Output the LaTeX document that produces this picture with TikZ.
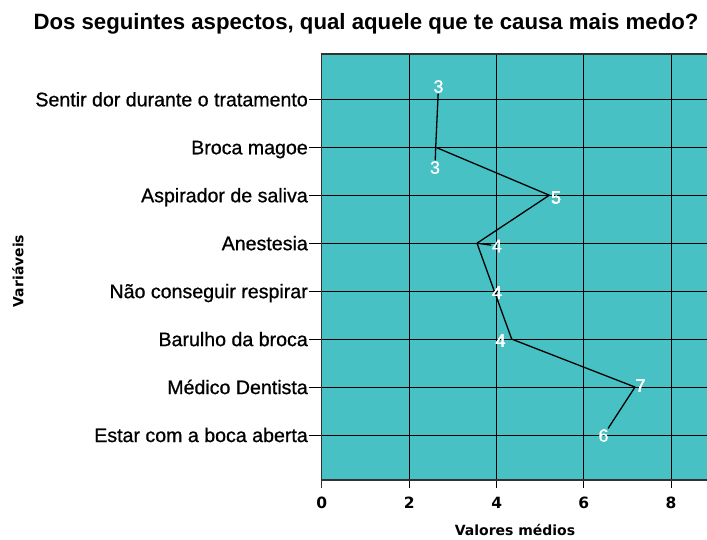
\documentclass[tikz,border=0pt]{standalone}
\usepackage{fontspec}
\setmainfont{Liberation Sans}
\newfontfamily\semib{Liberation Sans}[FakeBold=0.8]
\newfontfamily\djv{DejaVu Sans}
\definecolor{plotbg}{RGB}{72,193,197}
\definecolor{framec}{RGB}{50,50,50}
\tikzset{
  catlab/.style={anchor=base east,inner sep=0pt,font=\semib\fontsize{19.6}{22}\selectfont},
  ticklab/.style={inner sep=0pt,font=\djv\bfseries\fontsize{15.5}{17}\selectfont},
  axtitle/.style={inner sep=0pt,font=\djv\bfseries\fontsize{14}{16}\selectfont},
  vallab/.style={inner sep=0.5pt,text=white,font=\semib\fontsize{18}{20}\selectfont},
  gridl/.style={black,line width=1pt},
  dataline/.style={black,line width=1.3pt,line join=round}
}
\begin{document}
\begin{tikzpicture}[x=1pt,y=-1pt]
\clip (0,0) rectangle (707,539);
\fill[white] (0,0) rectangle (707,539);
% plot area
\fill[plotbg] (321.7,54) rectangle (740,480);
% vertical grid lines + ticks
\foreach \xx in {409.3,496.7,583.7,671}{
  \draw[gridl] (\xx,54) -- (\xx,488);
}
\draw[framec,line width=1.3pt] (321.7,480) -- (321.7,488);
% horizontal row lines + ticks
\foreach \i in {0,...,7}{
  \draw[gridl] (309,{99.3+47.96*\i}) -- (740,{99.3+47.96*\i});
}
% frame
\draw[framec,line width=1.4pt] (740,54) -- (321.7,54) -- (321.7,480) -- (740,480);
% title
\node[inner sep=0pt,font=\bfseries\fontsize{22.2}{24}\selectfont] (title) at (366,24) {Dos seguintes aspectos, qual aquele que te causa mais medo?};
% category labels
\node[catlab] (c1) at (308,{99.3+7}) {Sentir dor durante o tratamento};
\node[catlab] (c2) at (308,{147.26+7}) {Broca magoe};
\node[catlab] (c3) at (308,{195.22+7}) {Aspirador de saliva};
\node[catlab] (c4) at (308,{243.18+7}) {Anestesia};
\node[catlab] (c5) at (308,{291.14+7}) {Não conseguir respirar};
\node[catlab] (c6) at (308,{339.1+7}) {Barulho da broca};
\node[catlab] (c7) at (308,{387.06+7}) {Médico Dentista};
\node[catlab] (c8) at (308,{435.02+7}) {Estar com a boca aberta};
% axis tick labels
\node[ticklab] (t0) at (321.7,502.7) {0};
\node[ticklab] (t2) at (409.3,502.7) {2};
\node[ticklab] (t4) at (496.7,502.7) {4};
\node[ticklab] (t6) at (583.7,502.7) {6};
\node[ticklab] (t8) at (671,502.7) {8};
\node[axtitle] (xtitle) at (515,530) {Valores médios};
\node[axtitle,rotate=90] (ytitle) at (18,271) {Variáveis};
% data points
\coordinate (p2) at (435.7,147.26);
\coordinate (p3) at (549.3,195.22);
\coordinate (p4) at (477,243.18);
\coordinate (p5) at (494.3,291.14);
\coordinate (p6) at (511.7,339.1);
\coordinate (p7) at (635,387.06);
% value labels
\node[vallab] (l1) at (438.5,86.5) {3};
\node[vallab] (l2) at (435,167.5) {3};
\node[vallab] (l3) at (556,197.5) {5};
\node[vallab] (l4) at (497,246) {4};
\node[vallab] (l5) at (497,292.5) {4};
\node[vallab] (l6) at (500.5,340.5) {4};
\node[vallab] (l7) at (640.5,385.5) {7};
\node[vallab] (l8) at (603.5,435.5) {6};
% data line
\draw[dataline] (l1) -- (p2) -- (p3) -- (p4) -- (p5) -- (p6) -- (p7) -- (l8);
\draw[dataline] (p2) -- (l2);
\draw[dataline] (p4) -- (l4);
% redraw value labels on top
\node[vallab] at (l5) {4};
\node[vallab] at (l6) {4};
\node[vallab] at (l3) {5};
\node[vallab] at (l7) {7};
\end{tikzpicture}
\end{document}
